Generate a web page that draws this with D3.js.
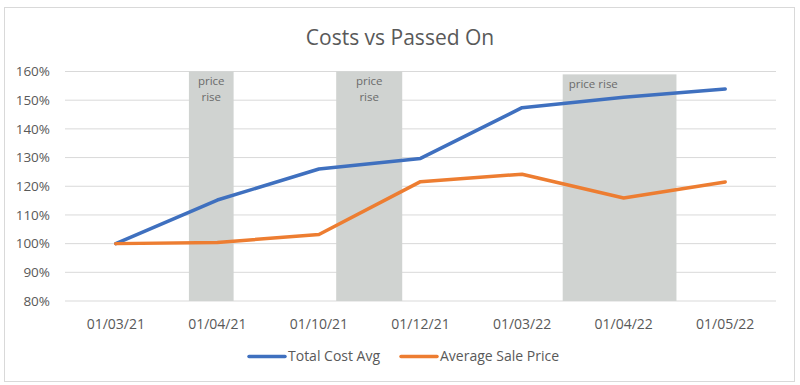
<!DOCTYPE html>
<html>
<head>
<meta charset="utf-8">
<script src="https://cdn.jsdelivr.net/npm/d3@7"></script>
<style>
  body { margin: 0; background: #fff; }
  text { font-family: "Open Sans", "Liberation Sans", sans-serif; fill: #595959; }
</style>
</head>
<body>
<div id="chart"></div>
<script>
const categories = ["01/03/21", "01/04/21", "01/10/21", "01/12/21", "01/03/22", "01/04/22", "01/05/22"];
const totalCostAvg = [100, 115.2, 126, 129.7, 147.4, 151, 153.9];
const averageSalePrice = [100, 100.4, 103.2, 121.6, 124.2, 115.9, 121.5];
const yTicks = [80, 90, 100, 110, 120, 130, 140, 150, 160];
// shaded "price rise" periods, in category-index units
const bandStarts = [0.72, 2.17, 4.40];
const bandEnds = [1.16, 2.82, 5.52];
const bandTops = [160, 160, 159];
const bandLabels = [["price", "rise"], ["price", "rise"], ["price rise"]];

const W = 800, H = 385;
const margin = { top: 71.5, right: 24, bottom: 84, left: 65 };
const width = W - margin.left - margin.right;
const height = H - margin.top - margin.bottom;

const svg = d3.select("#chart")
  .append("svg")
  .attr("width", W)
  .attr("height", H);

svg.append("rect")
  .attr("x", 4.5).attr("y", 7.5)
  .attr("width", 790).attr("height", 374)
  .attr("fill", "#fff")
  .attr("stroke", "#d9d9d9");

svg.append("text")
  .attr("x", 400).attr("y", 45)
  .attr("text-anchor", "middle")
  .style("font-size", "21px")
  .text("Costs vs Passed On");

const chart = svg.append("g")
  .attr("transform", `translate(${margin.left},${margin.top})`);

const x = d3.scaleLinear()
  .domain([-0.5, categories.length - 0.5])
  .range([0, width]);

const y = d3.scaleLinear()
  .domain([80, 160])
  .range([height, 0]);

// gridlines
chart.append("g")
  .selectAll("line")
  .data(yTicks)
  .join("line")
  .attr("x1", 0).attr("x2", width)
  .attr("y1", d => y(d)).attr("y2", d => y(d))
  .attr("stroke", "#d9d9d9")
  .attr("stroke-width", 1);

// price rise bands
const bands = bandStarts.map((s, i) => ({ s, e: bandEnds[i], top: bandTops[i], label: bandLabels[i] }));
const bandG = chart.append("g")
  .selectAll("g")
  .data(bands)
  .join("g");

bandG.append("rect")
  .attr("x", d => x(d.s))
  .attr("width", d => x(d.e) - x(d.s))
  .attr("y", d => y(d.top))
  .attr("height", d => y(80) - y(d.top))
  .attr("fill", "#d0d3d1");

bandG.each(function (d) {
  const g = d3.select(this);
  const single = d.label.length === 1;
  g.selectAll("text")
    .data(d.label)
    .join("text")
    .attr("x", single ? x(d.s) + 6 : (x(d.s) + x(d.e)) / 2)
    .attr("y", (t, j) => y(d.top) + 13.5 + j * 16)
    .attr("text-anchor", single ? "start" : "middle")
    .style("font-size", "11.5px")
    .style("fill", "#6b6b6b")
    .text(t => t);
});

// axes labels
chart.append("g")
  .selectAll("text")
  .data(yTicks)
  .join("text")
  .attr("x", -15)
  .attr("y", d => y(d))
  .attr("dy", "0.35em")
  .attr("text-anchor", "end")
  .style("font-size", "13.5px")
  .text(d => d + "%");

chart.append("g")
  .selectAll("text")
  .data(categories)
  .join("text")
  .attr("x", (d, i) => x(i))
  .attr("y", height + 28)
  .attr("text-anchor", "middle")
  .style("font-size", "14px")
  .text(d => d);

// lines
const series = [
  { name: "Total Cost Avg", values: totalCostAvg, color: "#3f70bf" },
  { name: "Average Sale Price", values: averageSalePrice, color: "#ED7D31" }
];

const line = d3.line()
  .x((d, i) => x(i))
  .y(d => y(d));

chart.selectAll(".series")
  .data(series)
  .join("path")
  .attr("class", "series")
  .attr("d", d => line(d.values))
  .attr("fill", "none")
  .attr("stroke", d => d.color)
  .attr("stroke-width", 3.5)
  .attr("stroke-linejoin", "round")
  .attr("stroke-linecap", "round");

// legend
const legendX = [249, 401];
const legend = svg.append("g")
  .selectAll("g")
  .data(series)
  .join("g")
  .attr("transform", (d, i) => `translate(${legendX[i]},356.5)`);

legend.append("line")
  .attr("x1", 0).attr("x2", 36)
  .attr("stroke", d => d.color)
  .attr("stroke-width", 3.5)
  .attr("stroke-linecap", "round");

legend.append("text")
  .attr("x", 39)
  .attr("dy", "0.35em")
  .style("font-size", "14px")
  .text(d => d.name);
</script>
</body>
</html>
